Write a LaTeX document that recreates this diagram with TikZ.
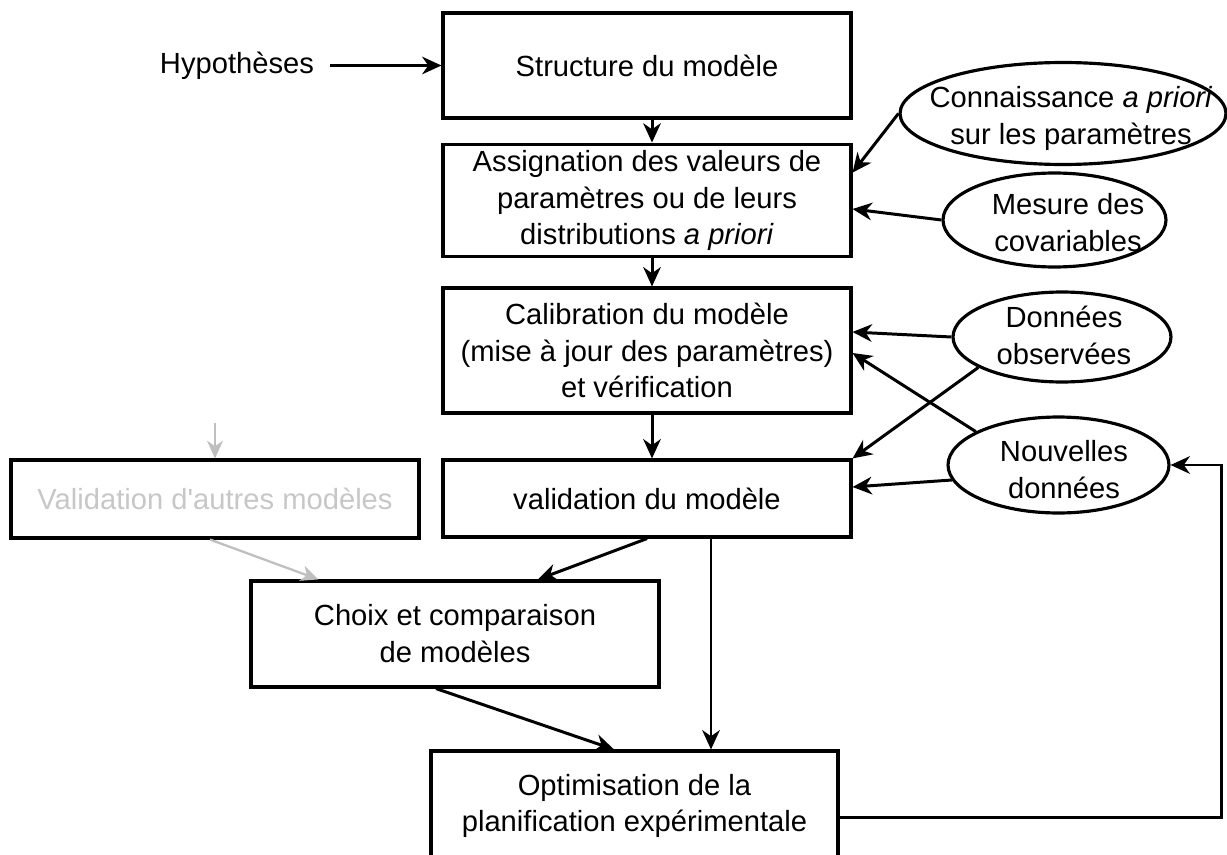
\documentclass[tikz,border=0pt]{standalone}
\usepackage{fontspec}
\setmainfont{Liberation Sans}
\usetikzlibrary{arrows.meta}
\usetikzlibrary{shapes.geometric}
\tikzstyle{boite} = [draw, line width=1.8pt, minimum width=8.16cm, align=center]
\tikzstyle{bulle} = [draw, ellipse, line width=1.8pt, inner sep=0pt]
\tikzstyle{fl} = [line width=1.7pt, -{Stealth[length=11pt,width=10pt,inset=3.5pt]}]
\tikzstyle{flgris} = [line width=1.3pt, draw=black!25, -{Stealth[length=10pt,width=9pt,inset=3pt]}]

\begin{document}
\begin{tikzpicture}[x=0.02cm, y=-0.02cm, font=\fontsize{16.6}{21}\selectfont]
\useasboundingbox (0,0) rectangle (1227,855);

\node (hyp) at (237,65.5) {Hypothèses};
\node[boite, minimum height=2.1cm] (struct) at (647,65.5) {Structure du modèle};
\node[boite, minimum height=2.14cm] (assign) at (647,200.5) {Assignation des valeurs de\\paramètres ou de leurs\\distributions \textit{a priori}};
\node[boite, minimum height=2.5cm] (calib) at (647,350.5) {Calibration du modèle\\(mise à jour des paramètres)\\et vérification};
\node[boite, minimum height=1.54cm] (valid) at (647,498.5) {validation du modèle};
\node[boite, minimum height=1.56cm, text=black!22] (autres) at (215,499) {Validation d\textquotesingle autres modèles};
\node[boite, minimum height=2.12cm] (choix) at (455,634) {Choix et comparaison\\de modèles};
\node[boite, minimum width=8.14cm, minimum height=2.2cm] (optim) at (634.5,806) {Optimisation de la\\planification expérimentale};

\node[bulle, minimum width=6.52cm, minimum height=2.04cm] (conn) at (1063,113.5) {};
\node[align=center] (conn_t) at (1071,118.5) {Connaissance \textit{a priori}\\sur les paramètres};
\node[bulle, minimum width=4.46cm, minimum height=1.88cm] (mes) at (1054.5,220) {};
\node[align=center] (mes_t) at (1068,223) {Mesure des\\covariables};
\node[bulle, minimum width=4.36cm, minimum height=1.8cm] (obs) at (1062,337) {};
\node[align=center] (obs_t) at (1064,335) {Données\\observées};
\node[bulle, minimum width=4.42cm, minimum height=1.92cm] (nouv) at (1058.5,465) {};
\node[align=center] (nouv_t) at (1064,469.5) {Nouvelles\\données};

\coordinate (autres_in) at (215,423);

\draw[fl, shorten <=0.2cm] (hyp) -- (struct);
\draw[fl] ([xshift=0.1cm]struct.south) -- ([xshift=0.1cm]assign.north);
\draw[fl] ([xshift=0.1cm]assign.south) -- ([xshift=0.1cm]calib.north);
\draw[fl] ([xshift=0.1cm]calib.south) -- ([xshift=0.1cm]valid.north);
\draw[fl] (conn.west) -- ([yshift=-0.6cm]assign.north east);
\draw[fl] (mes.west) -- ([yshift=-0.17cm]assign.east);
\draw[fl] (obs.west) -- ([yshift=0.37cm]calib.east);
\draw[fl] (obs.200) -- (valid.north east);
\draw[fl] (nouv.158) -- ([yshift=-0.05cm]calib.east);
\draw[fl] (nouv.188) -- ([yshift=0.23cm]valid.east);
\draw[fl] (valid.south) -- ([xshift=1.66cm]choix.north);
\draw[fl] ([xshift=1.28cm]valid.south) -- ([xshift=1.28cm]valid.south |- optim.north);
\draw[fl] ([xshift=-0.38cm]choix.south) -- ([xshift=-0.41cm]optim.north);
\draw[fl] ([yshift=-0.22cm]optim.east) -| ([xshift=1.02cm]nouv.east) -- (nouv.east);

\draw[flgris] (autres_in) -- (autres.north);
\draw[flgris] ([xshift=-0.1cm]autres.south) -- ([xshift=1.38cm]choix.north west);

\end{tikzpicture}
\end{document}
